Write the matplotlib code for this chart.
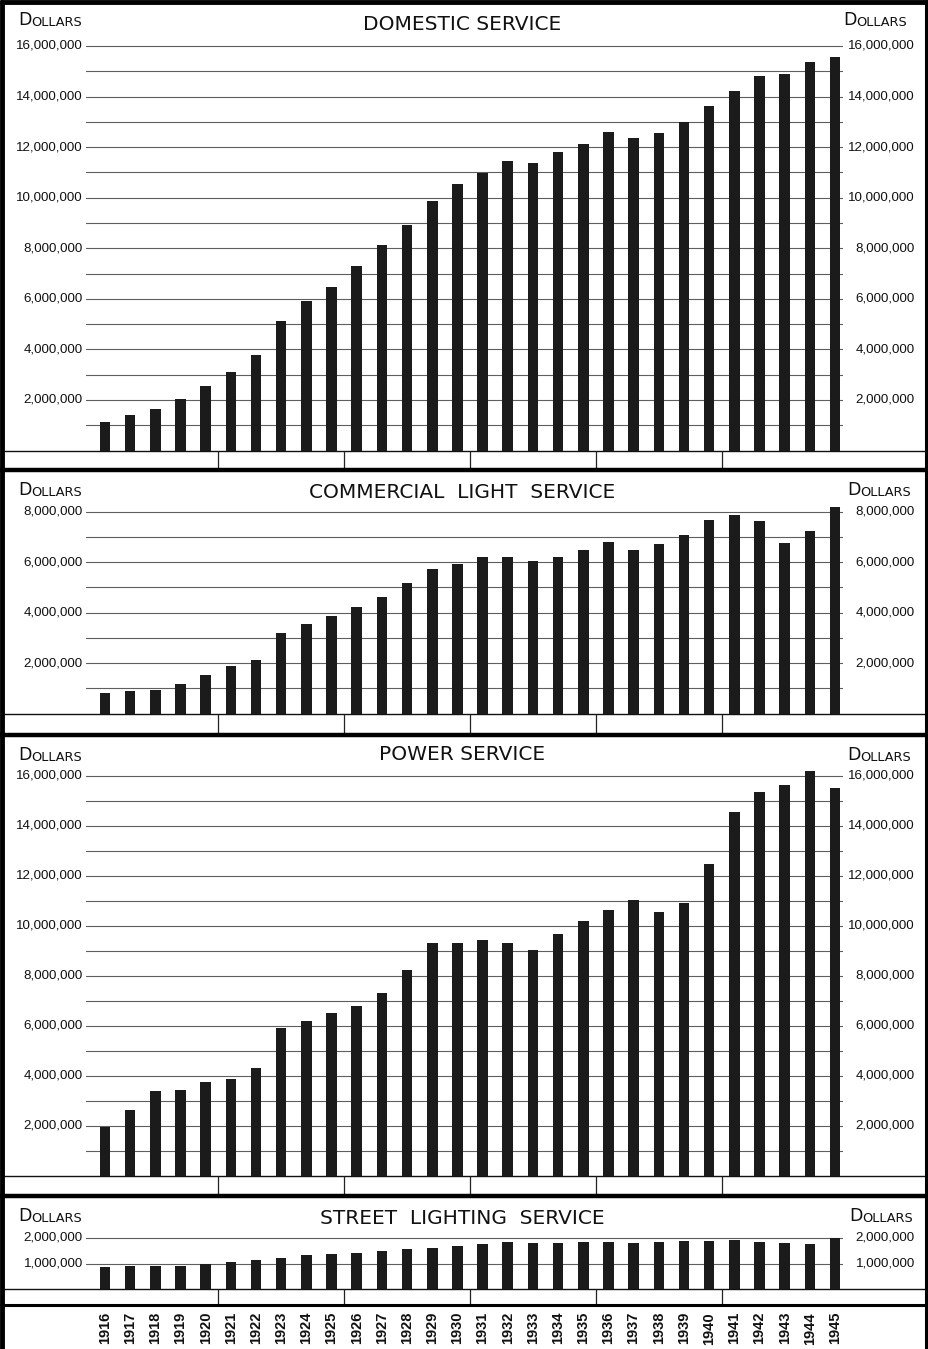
import matplotlib.pyplot as plt
import matplotlib.transforms as mtransforms

# Jahre / Werte (Dollar)
years = list(range(1916, 1946))
domestic = [1.12, 1.42, 1.63, 2.02, 2.57, 3.12, 3.79, 5.14, 5.93, 6.45,
            7.31, 8.14, 8.93, 9.88, 10.54, 10.98, 11.46, 11.37, 11.80, 12.13,
            12.61, 12.38, 12.54, 13.00, 13.63, 14.22, 14.82, 14.89, 15.35, 15.55]
commercial = [0.82, 0.90, 0.95, 1.18, 1.51, 1.87, 2.14, 3.21, 3.53, 3.85,
              4.21, 4.62, 5.17, 5.71, 5.94, 6.19, 6.19, 6.03, 6.19, 6.47,
              6.79, 6.49, 6.72, 7.08, 7.66, 7.87, 7.63, 6.75, 7.25, 8.17]
power = [1.95, 2.66, 3.40, 3.43, 3.75, 3.88, 4.34, 5.91, 6.19, 6.53,
         6.79, 7.31, 8.26, 9.34, 9.34, 9.46, 9.34, 9.06, 9.70, 10.20,
         10.66, 11.03, 10.57, 10.93, 12.48, 14.58, 15.38, 15.66, 16.20, 15.54]
street = [0.88, 0.89, 0.89, 0.91, 1.00, 1.04, 1.12, 1.21, 1.33, 1.39,
          1.43, 1.48, 1.55, 1.61, 1.67, 1.76, 1.85, 1.79, 1.79, 1.84,
          1.85, 1.79, 1.84, 1.89, 1.87, 1.92, 1.85, 1.79, 1.77, 2.00]
series = [domestic, commercial, power, street]
titles = ["DOMESTIC SERVICE", "COMMERCIAL  LIGHT  SERVICE",
          "POWER SERVICE", "STREET  LIGHTING  SERVICE"]
top_val = [16, 8, 16, 2]          # Millionen, oberste Gitterlinie
label_step = [2, 2, 2, 1]
dividers = [1920.5, 1925.5, 1930.5, 1935.5, 1940.5]

# Layout in Pixeln
W, H = 929, 1349
base_px = [450.5, 713.5, 1176, 1289]
toplin_px = [46, 511.7, 776, 1238]
ylim_top = [16.4, 8.4, 16.6, 2.3]
strip_px = [470, 734.5, 1195.5, 1305]
title_y = [24, 493, 755, 1219]
dol_y = [20, 490, 755, 1216]
dol_rx = [843, 847, 847, 849]
left_px, right_px = 86, 843
x0, x1 = 1915.245, 1945.318

fig = plt.figure(figsize=(W / 100, H / 100), dpi=100)
bg = fig.add_axes([0, 0, 1, 1], zorder=0)
bg.set_xlim(0, W)
bg.set_ylim(H, 0)
bg.axis('off')

num_font = dict(family='Liberation Sans', fontsize=9.6, color='#111111')
bar_col = '#1b1b1b'
grid_col = '#5e5e5e'


def dollars(x, y):
    t = bg.text(x, y, "D", fontsize=12.5, va='center', ha='left',
                family='DejaVu Sans', color='#111111')
    bg.annotate("OLLARS", xy=(1, 0), xycoords=t, fontsize=9.3, va='bottom',
                ha='left', family='DejaVu Sans', color='#111111')


axes = []
for i, vals in enumerate(series):
    pxm = (base_px[i] - toplin_px[i]) / top_val[i]
    h = ylim_top[i] * pxm
    ax = fig.add_axes([left_px / W, 1 - base_px[i] / H,
                       (right_px - left_px) / W, h / H], zorder=2)
    ax.patch.set_alpha(0)
    ax.set_xlim(x0, x1)
    ax.set_ylim(0, ylim_top[i] * 1e6)
    for s in ax.spines.values():
        s.set_visible(False)
    ax.set_xticks([])
    ax.set_yticks([])

    # Gitterlinien jede Million
    for m in range(1, top_val[i] + 1):
        ax.axhline(m * 1e6, color=grid_col, lw=0.8, zorder=1)

    ax.bar(years, [v * 1e6 for v in vals], width=0.42, color=bar_col, zorder=3)

    # Achsenbeschriftung links und rechts
    tr = ax.get_yaxis_transform()
    for m in range(label_step[i], top_val[i] + 1, label_step[i]):
        lab = f"{m * 1000000:,}"
        ax.text((83 - left_px) / (right_px - left_px), m * 1e6, lab,
                transform=tr, ha='right', va='center', **num_font)
        ax.text((915 - left_px) / (right_px - left_px), m * 1e6, lab,
                transform=tr, ha='right', va='center', **num_font)

    bg.text(462, title_y[i], titles[i], ha='center', va='center',
            family='DejaVu Sans', fontsize=14.5, color='#111111')
    dollars(18, dol_y[i])
    dollars(dol_rx[i], dol_y[i])

    # Grundlinie, Streifen mit Trennstrichen, dicke Trennlinie
    bg.hlines(base_px[i], 4, 926, color='#111111', lw=1.0)
    bl = mtransforms.blended_transform_factory(ax.transData, bg.transData)
    bg.vlines(dividers, base_px[i], strip_px[i], color='#222222', lw=0.9,
              transform=bl)
    bg.hlines(strip_px[i], 0, W, color='black', lw=3.2 if i < 3 else 2.2)
    axes.append(ax)

# Rahmen
bg.hlines(2, 0, W, color='black', lw=3.5)
bg.vlines(2, 0, H, color='black', lw=3.5)
bg.vlines(926, 0, H, color='black', lw=2.2)

# Jahreszahlen
bl = mtransforms.blended_transform_factory(axes[-1].transData, bg.transData)
for y in years:
    bg.text(y, 1312, str(y), transform=bl, rotation=90, ha='center', va='top',
            family='Liberation Sans', fontweight='bold', fontsize=10.5,
            color='#111111')

fig.savefig("out.png", dpi=100, facecolor='white')
